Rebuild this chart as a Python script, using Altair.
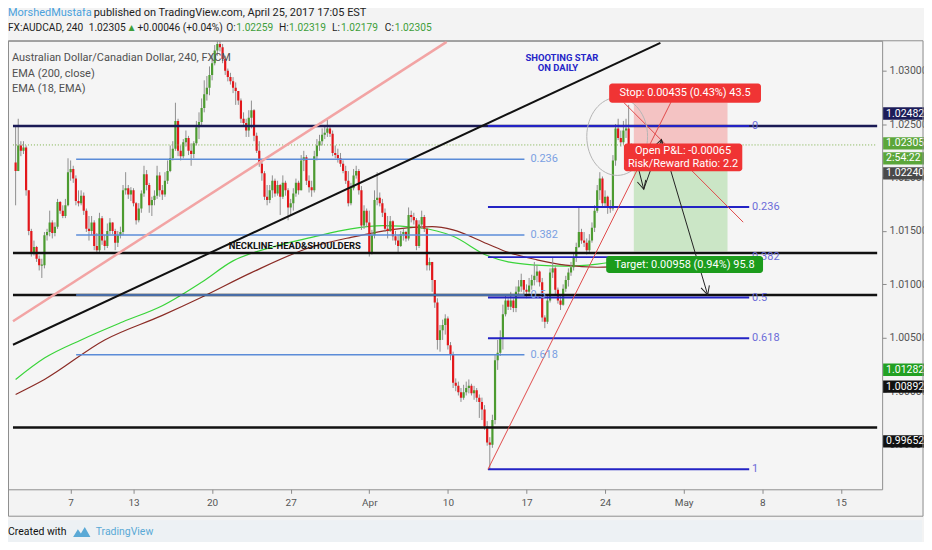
import math
import altair as alt
import pandas as pd

# ---------------- values ----------------
# AUDCAD 4h bars, prices in 1e-4 units (10206 -> 1.0206); open = previous close
OPEN0 = 10214
CLOSE = [
    10206, 10230, 10225, 10228, 10188, 10150, 10130, 10135, 10124, 10118,
    10118, 10146, 10149, 10158, 10148, 10154, 10177, 10169, 10164, 10174,
    10205, 10208, 10199, 10178, 10176, 10183, 10169, 10152, 10150, 10158,
    10136, 10132, 10162, 10141, 10136, 10150, 10158, 10150, 10139, 10146,
    10149, 10188, 10190, 10184, 10188, 10176, 10160, 10171, 10185, 10203,
    10193, 10174, 10179, 10183, 10202, 10188, 10184, 10197, 10206, 10218,
    10227, 10253, 10225, 10220, 10233, 10237, 10225, 10222, 10232, 10247,
    10252, 10265, 10278, 10284, 10296, 10307, 10319, 10325, 10322, 10311,
    10300, 10294, 10290, 10284, 10281, 10272, 10255, 10251, 10244, 10256,
    10263, 10239, 10225, 10213, 10204, 10182, 10179, 10188, 10197, 10185,
    10193, 10182, 10195, 10188, 10172, 10176, 10185, 10195, 10188, 10216,
    10219, 10197, 10191, 10188, 10220, 10230, 10234, 10240, 10242, 10246,
    10241, 10223, 10221, 10218, 10213, 10206, 10197, 10176, 10190, 10202,
    10206, 10188, 10155, 10169, 10158, 10130, 10146, 10179, 10181, 10176,
    10167, 10152, 10150, 10159, 10145, 10141, 10136, 10147, 10149, 10143,
    10165, 10163, 10160, 10136, 10156, 10163, 10152, 10118, 10121, 10104,
    10083, 10048, 10057, 10062, 10068, 10043, 10034, 10008, 10005, 9999,
    9994, 9999, 10003, 10005, 9998, 10001, 9994, 9990, 9983, 9967,
    9952, 9950, 9973, 10029, 10036, 10050, 10072, 10085, 10079, 10085,
    10078, 10093, 10098, 10104, 10095, 10093, 10099, 10104, 10108, 10112,
    10102, 10069, 10065, 10085, 10111, 10115, 10095, 10085, 10081, 10096,
    10104, 10111, 10116, 10125, 10135, 10149, 10141, 10139, 10132, 10141,
    10153, 10169, 10188, 10199, 10176, 10182, 10172, 10171, 10216, 10246,
    10237, 10233, 10244, 10246, 10226, 10231,
]
HIGH = [
    10248, 10255, 10234, 10234, 10230, 10188, 10152, 10141, 10136, 10127,
    10124, 10149, 10152, 10169, 10160, 10158, 10180, 10178, 10174, 10180,
    10218, 10216, 10211, 10202, 10188, 10188, 10186, 10171, 10164, 10164,
    10160, 10148, 10167, 10164, 10146, 10157, 10162, 10158, 10152, 10150,
    10154, 10193, 10205, 10193, 10191, 10190, 10177, 10176, 10188, 10211,
    10207, 10195, 10182, 10188, 10211, 10205, 10193, 10205, 10216, 10230,
    10234, 10270, 10255, 10230, 10236, 10244, 10239, 10232, 10234, 10253,
    10261, 10274, 10291, 10295, 10304, 10314, 10324, 10330, 10332, 10325,
    10314, 10302, 10298, 10294, 10289, 10281, 10274, 10261, 10255, 10263,
    10272, 10264, 10242, 10234, 10216, 10206, 10193, 10193, 10202, 10199,
    10197, 10194, 10202, 10197, 10190, 10180, 10190, 10199, 10197, 10221,
    10225, 10221, 10202, 10197, 10225, 10236, 10240, 10246, 10248, 10255,
    10249, 10244, 10230, 10227, 10223, 10216, 10211, 10206, 10195, 10208,
    10211, 10208, 10192, 10174, 10171, 10169, 10151, 10188, 10205, 10186,
    10180, 10171, 10164, 10164, 10160, 10150, 10146, 10150, 10152, 10150,
    10172, 10169, 10167, 10162, 10160, 10169, 10165, 10154, 10125, 10121,
    10099, 10087, 10062, 10067, 10072, 10070, 10046, 10037, 10012, 10009,
    10003, 10006, 10009, 10011, 10007, 10005, 10003, 9997, 9994, 9987,
    9972, 9957, 9978, 10034, 10048, 10057, 10081, 10090, 10087, 10093,
    10087, 10098, 10104, 10110, 10104, 10100, 10106, 10109, 10121, 10118,
    10113, 10106, 10071, 10090, 10115, 10125, 10117, 10097, 10089, 10100,
    10108, 10115, 10121, 10130, 10139, 10172, 10152, 10149, 10143, 10147,
    10158, 10174, 10193, 10205, 10201, 10188, 10183, 10179, 10221, 10250,
    10255, 10244, 10253, 10255, 10268, 10232,
]
LOW = [
    10174, 10208, 10220, 10222, 10183, 10146, 10126, 10127, 10121, 10113,
    10106, 10115, 10141, 10145, 10143, 10145, 10152, 10166, 10162, 10162,
    10173, 10197, 10195, 10174, 10173, 10174, 10165, 10149, 10141, 10146,
    10132, 10129, 10130, 10137, 10132, 10134, 10147, 10147, 10132, 10135,
    10143, 10146, 10184, 10180, 10178, 10173, 10156, 10158, 10167, 10182,
    10188, 10167, 10164, 10174, 10180, 10182, 10179, 10182, 10194, 10205,
    10216, 10225, 10220, 10216, 10218, 10229, 10221, 10211, 10218, 10230,
    10236, 10249, 10261, 10272, 10277, 10291, 10305, 10314, 10318, 10307,
    10296, 10290, 10287, 10279, 10268, 10268, 10251, 10248, 10238, 10238,
    10246, 10234, 10223, 10210, 10197, 10179, 10174, 10176, 10181, 10182,
    10183, 10165, 10180, 10183, 10160, 10165, 10169, 10182, 10184, 10190,
    10206, 10193, 10186, 10182, 10186, 10216, 10225, 10230, 10236, 10238,
    10238, 10220, 10218, 10214, 10210, 10204, 10194, 10173, 10174, 10188,
    10199, 10184, 10151, 10152, 10154, 10126, 10128, 10143, 10174, 10173,
    10163, 10149, 10143, 10149, 10141, 10137, 10130, 10135, 10141, 10140,
    10141, 10158, 10156, 10132, 10134, 10152, 10149, 10113, 10113, 10093,
    10078, 10039, 10037, 10048, 10053, 10039, 10029, 10003, 10000, 9996,
    9990, 9992, 9996, 9998, 9996, 9992, 9990, 9975, 9973, 9964,
    9949, 9927, 9947, 9969, 10020, 10033, 10039, 10070, 10076, 10076,
    10074, 10074, 10089, 10093, 10091, 10087, 10089, 10095, 10099, 10102,
    10098, 10065, 10059, 10063, 10083, 10106, 10091, 10082, 10076, 10080,
    10093, 10098, 10108, 10113, 10121, 10134, 10138, 10135, 10128, 10129,
    10139, 10149, 10167, 10179, 10172, 10173, 10166, 10167, 10169, 10211,
    10235, 10229, 10231, 10237, 10223, 10218,
]

# moving averages read at a few bar indices (1e-4 units)
GREEN_IDX = [0, 11, 25, 41, 56, 71, 83, 98, 113, 128, 140, 154, 167, 180, 188, 199, 210, 222, 235]
GREEN_VAL = [10011, 10031, 10048, 10065, 10080, 10102, 10122, 10135, 10144, 10152, 10155,
             10153, 10145, 10127, 10121, 10118, 10117, 10119, 10124]
BROWN_IDX = [0, 11, 34, 56, 71, 90, 113, 128, 146, 159, 167, 180, 188, 199, 210, 222, 235]
BROWN_VAL = [9997, 10011, 10048, 10071, 10088, 10111, 10135, 10144, 10152, 10154, 10151,
             10138, 10130, 10123, 10118, 10116, 10117]

# time axis: trading-day units (0 = 1 March 2017), weekends skipped
DAY_TICKS = [4, 8, 13, 18, 23, 28, 33, 38, 43, 48, 53]
DAY_LABELS = ["7", "13", "20", "27", "Apr", "10", "17", "24", "May", "8", "15"]
PRICE_TICKS = [0.995, 1.000, 1.005, 1.010, 1.015, 1.020, 1.025, 1.030]

FULL_LEVELS = [1.02482, 1.01293, 1.00901, 0.99660]
FULL_COLORS = ["#1a1a55", "#111111", "#111111", "#111111"]
LAST_PRICE = 1.02305

LEFT_FIB_LABELS = ["0.236", "0.382", "0.5", "0.618"]
LEFT_FIB_PRICES = [1.02170, 1.01461, 1.00901, 1.00341]
LEFT_FIB_T = [4.35, 32.87]
RIGHT_FIB_LABELS = ["0", "0.236", "0.382", "0.5", "0.618", "1"]
RIGHT_FIB_PRICES = [1.02482, 1.01724, 1.01255, 1.00876, 1.00496, 0.99269]
RIGHT_FIB_T = [30.55, 47.17]

PINK_TREND = ([0.332, 27.92], [1.00655, 1.03270])
BLACK_TREND = ([0.332, 41.52], [1.00435, 1.03261])
RED_UP = ([30.55, 42.78], [0.99269, 1.02879])
RED_DOWN = ([39.20, 46.79], [1.02701, 1.01582])
ARROW_T = [39.83, 40.46, 41.59, 44.53]
ARROW_P = [1.02254, 1.01890, 1.02356, 1.00901]
CIRCLE_T, CIRCLE_P = 38.77, 1.02384

ZONE_T = [39.83, 45.79]
STOP, ENTRY, TARGET = 1.02701, 1.02266, 1.01308
STOP_BOX = ([38.26, 47.92], [1.02701, 1.02879])
PNL_BOX = ([39.20, 46.73], [1.02058, 1.02319])
TARGET_BOX = ([38.07, 48.05], [1.01106, 1.01265])

AXIS_TAGS = ["1.02482", "1.02305", "2:54:22", "1.02240", "1.01282", "1.00892", "0.99652"]
AXIS_TAG_AT = [1.02599, 1.02319, 1.02179, 1.02039, 1.00201, 1.00043, 0.99530]
AXIS_TAG_FILL = ["#1c1c58", "#5ba63a", "#5ba63a", "#4a4a4a", "#22a022", "#111111", "#111111"]

# ---------------- layout & styles ----------------
FONT = "Roboto"
XD = [0.332, 55.31]
YD = [0.99082, 1.0328]
W, H = 877, 450
KX = W / (XD[1] - XD[0])
KY = H / (YD[1] - YD[0])
UP_COL, DN_COL, WICK_COL = "#4c9b30", "#e3171b", "#8f8f8f"
DUMMY = pd.DataFrame({"k": [0]})

xs = alt.Scale(domain=XD, nice=False, zero=False)
ys = alt.Scale(domain=YD, nice=False, zero=False)
label_expr = ("[" + ",".join("'%s'" % s for s in DAY_LABELS) + "][indexof(["
              + ",".join(str(v) for v in DAY_TICKS) + "], datum.value)]")
xaxis = alt.Axis(values=DAY_TICKS, labelExpr=label_expr, orient="bottom", grid=False,
                 domain=False, tickSize=4, tickColor="#8a8a8a", labelColor="#555555",
                 labelFont=FONT, labelFontSize=10, labelPadding=4, title=None,
                 labelFlush=False, labelOverlap=False)
yaxis = alt.Axis(values=PRICE_TICKS, format=".5f", orient="right", grid=False,
                 domain=False, tickSize=4, tickColor="#8a8a8a", labelColor="#555555",
                 labelFont=FONT, labelFontSize=10.5, labelPadding=3, title=None,
                 labelOverlap=False)


def X(f):
    return alt.X(f, type="quantitative", scale=xs, axis=xaxis)


def Y(f):
    return alt.Y(f, type="quantitative", scale=ys, axis=yaxis)


# ---------------- tables ----------------
n = min(len(CLOSE), len(HIGH), len(LOW))
rows = []
prev = OPEN0
for i in range(n):
    o, c = prev, CLOSE[i]
    h = max(HIGH[i], o, c)
    l = min(LOW[i], o, c)
    lo, hi = min(o, c), max(o, c)
    if hi - lo < 1:
        lo, hi = lo - 0.5, hi + 0.5
    rows.append(dict(t=0.5 + i / 6.0, h=h / 1e4, l=l / 1e4, bl=lo / 1e4, bh=hi / 1e4,
                     col=UP_COL if c >= o else DN_COL))
    prev = c
candles = pd.DataFrame(rows)

ema = pd.DataFrame(
    [dict(t=0.5 + i / 6.0, p=v / 1e4, s="g") for i, v in zip(GREEN_IDX, GREEN_VAL)]
    + [dict(t=0.5 + i / 6.0, p=v / 1e4, s="b") for i, v in zip(BROWN_IDX, BROWN_VAL)])

segs = []


def seg(t1, p1, t2, p2, col, w):
    segs.append(dict(t1=t1, p1=p1, t2=t2, p2=p2, col=col, w=w))


for p, ccol in zip(FULL_LEVELS, FULL_COLORS):
    seg(XD[0], p, XD[1], p, ccol, 2.5)
for p in LEFT_FIB_PRICES:
    seg(LEFT_FIB_T[0], p, LEFT_FIB_T[1], p, "#5b8cd8", 1.5)
for p in RIGHT_FIB_PRICES:
    seg(RIGHT_FIB_T[0], p, RIGHT_FIB_T[1], p, "#2323c4", 2)
seg(PINK_TREND[0][0], PINK_TREND[1][0], PINK_TREND[0][1], PINK_TREND[1][1], "#f2a4a4", 2.5)
seg(BLACK_TREND[0][0], BLACK_TREND[1][0], BLACK_TREND[0][1], BLACK_TREND[1][1], "#111111", 2)
seg(RED_UP[0][0], RED_UP[1][0], RED_UP[0][1], RED_UP[1][1], "#e04a4a", 1)
seg(RED_DOWN[0][0], RED_DOWN[1][0], RED_DOWN[0][1], RED_DOWN[1][1], "#e04a4a", 1)
heads = []
for k in range(len(ARROW_T) - 1):
    seg(ARROW_T[k], ARROW_P[k], ARROW_T[k + 1], ARROW_P[k + 1], "#222222", 1)
    dx = (ARROW_T[k + 1] - ARROW_T[k]) * KX
    dy = -(ARROW_P[k + 1] - ARROW_P[k]) * KY
    heads.append(dict(t=ARROW_T[k + 1], p=ARROW_P[k + 1],
                      a=math.degrees(math.atan2(dx, -dy)) % 360))
segs = pd.DataFrame(segs)
heads = pd.DataFrame(heads)

zones = pd.DataFrame([
    dict(t1=ZONE_T[0], t2=ZONE_T[1], p1=ENTRY, p2=STOP, col="#f4c3c3"),
    dict(t1=ZONE_T[0], t2=ZONE_T[1], p1=TARGET, p2=ENTRY, col="#cbe6c6"),
])
boxes = pd.DataFrame([
    dict(t1=STOP_BOX[0][0], t2=STOP_BOX[0][1], p1=STOP_BOX[1][0], p2=STOP_BOX[1][1], col="#f03434"),
    dict(t1=PNL_BOX[0][0], t2=PNL_BOX[0][1], p1=PNL_BOX[1][0], p2=PNL_BOX[1][1], col="#f03434"),
    dict(t1=TARGET_BOX[0][0], t2=TARGET_BOX[0][1], p1=TARGET_BOX[1][0], p2=TARGET_BOX[1][1], col="#1c9c1c"),
])
box_text = pd.DataFrame([
    dict(t=sum(STOP_BOX[0]) / 2, p=sum(STOP_BOX[1]) / 2, s="Stop: 0.00435 (0.43%) 43.5"),
    dict(t=sum(PNL_BOX[0]) / 2, p=PNL_BOX[1][1] - (PNL_BOX[1][1] - PNL_BOX[1][0]) * 0.27,
         s="Open P&L: -0.00065"),
    dict(t=sum(PNL_BOX[0]) / 2, p=PNL_BOX[1][0] + (PNL_BOX[1][1] - PNL_BOX[1][0]) * 0.27,
         s="Risk/Reward Ratio: 2.2"),
    dict(t=sum(TARGET_BOX[0]) / 2, p=sum(TARGET_BOX[1]) / 2, s="Target: 0.00958 (0.94%) 95.8"),
])
fib_text = pd.DataFrame(
    [dict(t=LEFT_FIB_T[1] + 0.38, p=p, s=s, col="#7a9fe2") for s, p in zip(LEFT_FIB_LABELS, LEFT_FIB_PRICES)]
    + [dict(t=RIGHT_FIB_T[1] + 0.18, p=p, s=s, col="#6b6bd8") for s, p in zip(RIGHT_FIB_LABELS, RIGHT_FIB_PRICES)])
tag_half = 6.2 / KY
tags = pd.DataFrame(dict(s=AXIS_TAGS, c=AXIS_TAG_AT, fill=AXIS_TAG_FILL))
tags["lo"] = tags["c"] - tag_half
tags["hi"] = tags["c"] + tag_half

# ---------------- layers ----------------
layers = []
layers.append(alt.Chart(zones).mark_rect().encode(
    x=X("t1"), x2="t2", y=Y("p1"), y2="p2", color=alt.Color("col:N", scale=None)))
layers.append(alt.Chart(ema).mark_line(strokeWidth=1.2, interpolate="monotone", clip=True).encode(
    x=X("t"), y=Y("p"), detail="s:N",
    color=alt.Color("s:N", scale=alt.Scale(domain=["g", "b"], range=["#3ad43a", "#8b2c26"]), legend=None)))
layers.append(alt.Chart(candles).mark_rule(strokeWidth=1, color=WICK_COL, clip=True).encode(
    x=X("t"), y=Y("l"), y2="h"))
layers.append(alt.Chart(candles).mark_bar(size=2.2, clip=True).encode(
    x=X("t"), y=Y("bl"), y2="bh", color=alt.Color("col:N", scale=None)))
layers.append(alt.Chart(pd.DataFrame({"p": [LAST_PRICE], "t1": [XD[0]], "t2": [XD[1]]}))
              .mark_rule(strokeDash=[1, 2], color="#79b046", strokeWidth=1).encode(
    x=X("t1"), x2="t2", y=Y("p")))
layers.append(alt.Chart(segs).mark_rule(clip=True).encode(
    x=X("t1"), y=Y("p1"), x2="t2", y2="p2",
    color=alt.Color("col:N", scale=None), strokeWidth=alt.StrokeWidth("w:Q", scale=None)))
layers.append(alt.Chart(pd.DataFrame({"t": [CIRCLE_T], "p": [CIRCLE_P]})).mark_point(
    shape="M0,-1.28A1,1.28,0,1,1,0,1.28A1,1.28,0,1,1,0,-1.28Z", size=3721, filled=False,
    color="#b5b5b5", strokeWidth=1, opacity=1).encode(x=X("t"), y=Y("p")))
layers.append(alt.Chart(heads).mark_point(
    shape="M-0.5,1L0,0L0.5,1", size=300, filled=False, color="#222222", strokeWidth=1,
    opacity=1).encode(x=X("t"), y=Y("p"), angle=alt.Angle("a:Q", scale=None)))
layers.append(alt.Chart(fib_text).mark_text(align="left", baseline="middle", font=FONT,
                                            fontSize=11).encode(
    x=X("t"), y=Y("p"), text="s:N", color=alt.Color("col:N", scale=None)))
layers.append(alt.Chart(pd.DataFrame({"t": [14.06], "p": [1.01358]})).mark_text(
    text="NECKLINE-HEAD&SHOULDERS", align="left", baseline="middle", font=FONT, fontSize=9.5,
    fontWeight="bold", color="#111111").encode(x=X("t"), y=Y("p")))
layers.append(alt.Chart(pd.DataFrame({"t": [35.25, 35.0], "p": [1.03121, 1.03028],
                                      "s": ["SHOOTING STAR", "ON DAILY"]})).mark_text(
    align="center", baseline="middle", font=FONT, fontSize=9.5, fontWeight="bold",
    color="#2626c8").encode(x=X("t"), y=Y("p"), text="s:N"))
layers.append(alt.Chart(boxes).mark_rect(cornerRadius=3).encode(
    x=X("t1"), x2="t2", y=Y("p1"), y2="p2", color=alt.Color("col:N", scale=None)))
layers.append(alt.Chart(box_text).mark_text(align="center", baseline="middle", font=FONT,
                                            fontSize=11, color="white").encode(
    x=X("t"), y=Y("p"), text="s:N"))
# price tags on the right axis
layers.append(alt.Chart(tags).mark_rect().encode(
    x=alt.value(878), x2=alt.value(921), y=Y("lo"), y2="hi", color=alt.Color("fill:N", scale=None)))
layers.append(alt.Chart(tags).mark_text(align="left", baseline="middle", font=FONT, fontSize=10.5,
                                        color="white").encode(
    x=alt.value(881), y=Y("c"), text="s:N"))


def ptext(text, px, py, color, size=11, weight="normal", align="left", font=FONT):
    return alt.Chart(DUMMY).mark_text(text=text, align=align, baseline="middle", color=color,
                                      fontSize=size, fontWeight=weight, font=font).encode(
        x=alt.value(px), y=alt.value(py))


# frame around plot + axes, footer strip
layers.append(alt.Chart(DUMMY).mark_rect(fillOpacity=0, stroke="#8f8f8f", strokeWidth=1).encode(
    x=alt.value(0.5), x2=alt.value(918), y=alt.value(0), y2=alt.value(477)))
layers.append(alt.Chart(DUMMY).mark_rect(color="#edf1f4").encode(
    x=alt.value(0), x2=alt.value(917), y=alt.value(481), y2=alt.value(534)))

# legend texts inside the pane
layers.append(ptext("Australian Dollar/Canadian Dollar, 240, FXCM", 4, 17, "#505050", 11))
layers.append(ptext("EMA (200, close)", 4, 33, "#505050", 11))
layers.append(ptext("EMA (18, EMA)", 4, 48, "#505050", 11))

# header
DARK, GRN = "#1e1e1e", "#3e9e3a"
layers.append(ptext("MorshedMustafa", 0, -28, "#4aa1dc", 11))
layers.append(ptext("published on TradingView.com, April 25, 2017 17:05 EST", 86, -28, DARK, 11))
for s, px, colr in [("FX:AUDCAD, 240", 0, DARK), ("1.02305", 81, DARK), ("▲", 119, GRN),
                    ("+0.00046 (+0.04%)", 130, DARK), ("O:", 219, DARK), ("1.02259", 229, GRN),
                    ("H:", 272, DARK), ("1.02319", 282, GRN), ("L:", 325, DARK),
                    ("1.02179", 334, GRN), ("C:", 378, DARK), ("1.02305", 388, GRN)]:
    layers.append(ptext(s, px, -13, colr, 10.2))

# footer
layers.append(ptext("Created with", 0, 493, "#111111", 10.5))
layers.append(alt.Chart(DUMMY).mark_point(
    shape="M-1,0.55L-0.45,-0.35L-0.1,0.15L0.35,-0.6L1,0.55Z", size=300, filled=True,
    color="#5aa9d6", opacity=1).encode(x=alt.value(74), y=alt.value(493)))
layers.append(ptext("TradingView", 88, 493, "#5aa9d6", 10.5))

chart = alt.layer(*layers).properties(
    width=W, height=H,
    autosize=alt.AutoSizeParams(type="none"),
    padding={"left": 0, "top": 32, "right": 42, "bottom": 52},
    background="#f3f3f3",
).configure_view(fill="#f5f5f5", stroke="#8f8f8f", strokeWidth=1)

chart.save("out.html", embed_options={"renderer": "svg", "actions": False})
